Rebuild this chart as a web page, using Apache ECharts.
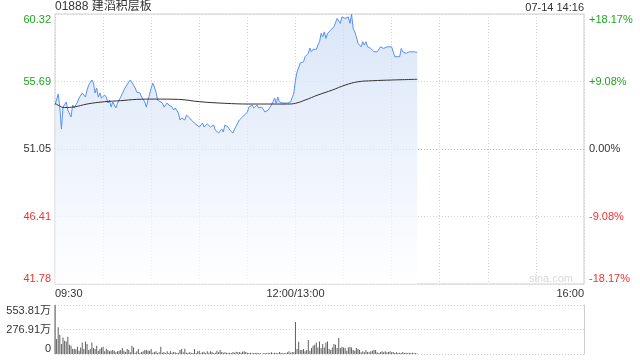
<!DOCTYPE html>
<html><head><meta charset="utf-8">
<script src="https://cdn.jsdelivr.net/npm/echarts@6/dist/echarts.min.js"></script>
<style>html,body{margin:0;padding:0;background:#fff}#c{width:640px;height:360px}</style>
</head><body><div id="c"></div>
<script>
// ---- data ----
const stockTitle = '01888 建滔积层板';
const stampText = '07-14 14:16';
const prevClose = 51.05;
const priceTickLabels = ['41.78', '46.41', '51.05', '55.69', '60.32'];
const pctTickLabels = ['-18.17%', '-9.08%', '0.00%', '+9.08%', '+18.17%'];
const volTickLabels = ['0', '276.91万', '553.81万'];
const volMax = 553.81;
const timeLabels = {0: '09:30', 150: '12:00/13:00', 330: '16:00'};

const priceTimes = ['09:30','09:32','09:33','09:34','09:35','09:37','09:38','09:40','09:41','09:42','09:44','09:45','09:47','09:49','09:50','09:51','09:53','09:54','09:55','09:56','09:57','09:58','09:59','10:01','10:02','10:03','10:04','10:05','10:06','10:08','10:09','10:11','10:13','10:14','10:16','10:17','10:18','10:19','10:20','10:21','10:23','10:24','10:26','10:27','10:28','10:30','10:31','10:32','10:33','10:34','10:35','10:37','10:38','10:40','10:41','10:43','10:44','10:45','10:47','10:48','10:49','10:51','10:52','10:54','10:55','10:57','10:58','11:00','11:02','11:03','11:05','11:06','11:07','11:09','11:10','11:12','11:14','11:15','11:16','11:18','11:19','11:21','11:22','11:24','11:25','11:27','11:28','11:30','11:31','11:32','11:33','11:34','11:36','11:37','11:39','11:41','11:42','11:43','11:45','11:46','11:47','11:48','11:49','11:50','11:52','11:53','11:55','11:57','11:58','11:59','12:00','13:01','13:02','13:03','13:05','13:06','13:08','13:09','13:10','13:11','13:13','13:14','13:15','13:16','13:17','13:18','13:19','13:20','13:22','13:23','13:24','13:26','13:27','13:28','13:29','13:30','13:31','13:32','13:33','13:34','13:35','13:36','13:37','13:38','13:39','13:40','13:41','13:42','13:43','13:44','13:45','13:47','13:49','13:50','13:51','13:53','13:54','13:55','13:57','13:58','14:00','14:01','14:02','14:03','14:05','14:06','14:07','14:08','14:09','14:11','14:12','14:14','14:16'];
const prices = [54.07,54.83,53.93,52.42,53.93,54.28,53.73,53.25,54.07,53.87,54.28,54.55,54.90,54.62,55.10,55.44,55.79,55.58,54.90,55.24,54.62,54.90,54.55,54.76,54.62,54.21,54.41,53.93,54.28,53.87,54.21,54.62,55.10,55.31,55.65,55.79,55.86,55.44,55.24,54.96,54.90,54.62,54.28,53.93,54.41,55.24,55.58,55.31,54.96,54.41,54.28,54.21,53.93,54.21,54.07,53.93,53.73,53.87,53.52,53.04,53.18,53.04,53.38,53.18,53.04,52.83,52.77,52.56,52.83,52.56,52.77,52.83,52.56,52.70,52.35,52.15,52.42,52.22,52.70,52.56,52.35,52.15,52.42,52.83,53.04,53.25,53.38,53.59,53.93,53.87,54.07,53.87,54.07,53.87,53.93,53.59,53.52,53.73,54.07,54.28,54.55,54.21,54.62,54.28,54.21,54.28,54.21,54.28,54.41,54.90,55.79,56.34,56.47,56.96,57.04,57.39,57.62,57.99,57.73,57.90,57.90,58.19,58.42,58.99,58.76,59.10,58.65,58.99,59.22,59.10,59.45,60.02,59.91,59.68,60.13,60.25,60.02,59.91,60.13,59.68,60.32,59.34,59.10,58.76,58.31,58.42,58.07,58.42,58.19,58.42,58.07,57.96,57.73,57.85,57.73,58.07,58.19,57.96,58.07,58.12,58.07,57.96,57.39,57.28,57.39,57.96,57.73,57.62,57.62,57.73,57.80,57.73,57.69];

const avgTimes = ['09:30','09:34','09:36','09:42','09:50','10:01','10:11','10:21','10:32','10:47','11:00','11:16','11:31','11:55','12:00','13:06','13:14','13:23','13:31','13:39','13:48','14:00','14:16'];
const avgPrices = [54.19,53.94,53.90,53.94,54.14,54.30,54.37,54.46,54.48,54.46,54.30,54.19,54.14,54.14,54.19,54.41,54.76,55.10,55.44,55.67,55.74,55.79,55.84];

// volume per minute (万股), 09:30 .. 14:16
const volumes = [
553.81,168.4,303.1,217.0,112.3,187.1,149.7,142.2,194.6,104.8,
93.6,56.1,59.9,52.4,82.3,37.4,74.8,131.0,56.1,142.2,
112.3,44.9,56.1,131.0,67.4,56.1,93.6,37.4,56.1,74.8,
82.3,29.9,59.9,44.9,29.9,37.4,44.9,37.4,18.7,29.9,
37.4,44.9,67.4,37.4,22.5,56.1,44.9,18.7,93.6,74.8,
15.0,29.9,56.1,11.2,22.5,29.9,44.9,44.9,37.4,37.4,
56.1,15.0,22.5,29.9,11.2,18.7,82.3,15.0,22.5,11.2,
29.9,11.2,29.9,15.0,22.5,
18.7,11.2,15.0,44.9,56.1,18.7,59.9,15.0,11.2,18.7,
15.0,11.2,56.1,11.2,29.9,37.4,11.2,18.7,26.2,11.2,
29.9,15.0,29.9,22.5,11.2,15.0,37.4,18.7,44.9,22.5,
15.0,18.7,15.0,11.2,15.0,11.2,22.5,15.0,26.2,18.7,
22.5,15.0,26.2,29.9,22.5,15.0,11.2,15.0,7.5,11.2,
11.2,15.0,7.5,11.2,3.7,7.5,11.2,7.5,15.0,11.2,
18.7,7.5,15.0,11.2,7.5,22.5,11.2,7.5,11.2,7.5,
18.7,29.9,15.0,22.5,18.7,
363.0,
56.1,138.5,44.9,44.9,56.1,29.9,44.9,157.2,37.4,67.4,
93.6,104.8,131.0,74.8,142.2,67.4,112.3,74.8,131.0,142.2,
56.1,44.9,74.8,112.3,104.8,67.4,179.6,67.4,82.3,74.8,
67.4,37.4,74.8,82.3,74.8,44.9,37.4,67.4,56.1,44.9,
18.7,29.9,18.7,44.9,22.5,18.7,29.9,37.4,44.9,44.9,
18.7,11.2,22.5,29.9,18.7,29.9,18.7,22.5,29.9,18.7,
22.5,11.2,18.7,11.2,15.0,11.2,22.5,11.2,15.0,11.2,
15.0,11.2,15.0,7.5,11.2,3.7];

// ---- helpers ----
function toIdx(t) {
  const [h, m] = t.split(':').map(Number);
  const mins = h * 60 + m;
  return mins <= 720 ? mins - 570 : mins - 780 + 150;
}
const toPct = p => (p / prevClose - 1) * 100;
const priceData = priceTimes.map((t, i) => [toIdx(t), toPct(prices[i])]);
const avgData = avgTimes.map((t, i) => [toIdx(t), toPct(avgPrices[i])]);
const volData = volumes.map((v, i) => [i, v]);

const FONT = 'Arial, "Liberation Sans", "Noto Sans CJK SC", sans-serif';
const GREEN = '#20a520', RED = '#ee3434', DARK = '#333';
const pctColor = (v) => { v = Number(v); return v > 0.001 ? GREEN : (v < -0.001 ? RED : DARK); };

const chart = echarts.init(document.getElementById('c'), null, {renderer: 'canvas'});
chart.setOption({
  animation: false,
  backgroundColor: '#fff',
  textStyle: {fontFamily: FONT},
  title: [
    {text: stockTitle, left: 55, top: 1, padding: 0, textStyle: {fontSize: 12, fontWeight: 'normal', color: DARK, fontFamily: FONT}},
    {text: stampText, right: 56, top: 2, padding: 0, textStyle: {fontSize: 11, fontWeight: 'normal', color: DARK, fontFamily: FONT}}
  ],
  graphic: [{type: 'text', right: 67, top: 273, style: {text: 'sina.com', fill: '#d8d8d8', font: '11px ' + FONT}}],
  grid: [
    {left: 55, top: 14, width: 529, height: 270, show: true, borderColor: '#cfcfcf', borderWidth: 1, backgroundColor: 'transparent'},
    {left: 55, top: 305, width: 529, height: 49}
  ],
  xAxis: [
    {type: 'value', gridIndex: 0, min: 0, max: 330, interval: 30,
     axisLine: {show: false}, axisTick: {show: false},
     splitLine: {show: true, lineStyle: {color: '#d4d4d4', type: [1, 2], width: 1}},
     axisLabel: {margin: 4, fontSize: 11, color: DARK, fontFamily: FONT, showMinLabel: true, showMaxLabel: true,
       alignMinLabel: 'left', alignMaxLabel: 'right',
       formatter: v => timeLabels[Math.round(v)] || ''}},
    {type: 'value', gridIndex: 1, min: 0, max: 330, interval: 30,
     axisLine: {show: false}, axisTick: {show: false}, splitLine: {show: false}, axisLabel: {show: false}}
  ],
  yAxis: [
    {type: 'value', gridIndex: 0, position: 'left', min: -18.17, max: 18.17, interval: 9.085,
     axisLine: {show: false}, axisTick: {show: false},
     splitLine: {show: true, lineStyle: {color: ['#d4d4d4', '#d4d4d4', '#b8b8b8', '#d4d4d4', '#d4d4d4'], type: [1, 2]}},
     axisLabel: {margin: 4, fontSize: 11, fontFamily: FONT, color: pctColor,
       verticalAlignMinLabel: 'bottom', verticalAlignMaxLabel: 'top',
       formatter: (v, i) => priceTickLabels[i]}},
    {type: 'value', gridIndex: 0, position: 'right', min: -18.17, max: 18.17, interval: 9.085,
     axisLine: {show: false}, axisTick: {show: false}, splitLine: {show: false},
     axisLabel: {margin: 5, fontSize: 11, fontFamily: FONT, color: pctColor,
       verticalAlignMinLabel: 'bottom', verticalAlignMaxLabel: 'top',
       formatter: (v, i) => pctTickLabels[i]}},
    {type: 'value', gridIndex: 1, position: 'left', min: 0, max: volMax, interval: volMax / 2,
     axisLine: {show: true, lineStyle: {color: '#cfcfcf'}}, axisTick: {show: false},
     splitLine: {show: true, lineStyle: {color: '#cfcfcf', type: [1, 2]}},
     axisLabel: {margin: 4, fontSize: 11, fontFamily: FONT, color: DARK,
       verticalAlignMinLabel: 'bottom', verticalAlignMaxLabel: 'top',
       formatter: (v, i) => volTickLabels[i]}},
    {type: 'value', gridIndex: 1, position: 'right', min: 0, max: volMax, interval: volMax / 2,
     axisLine: {show: true, lineStyle: {color: '#cfcfcf'}}, axisTick: {show: false},
     splitLine: {show: false}, axisLabel: {show: false}}
  ],
  series: [
    {type: 'line', xAxisIndex: 0, yAxisIndex: 0, data: priceData, symbol: 'none',
     lineStyle: {color: '#5a8ff0', width: 1},
     areaStyle: {origin: 'start', color: new echarts.graphic.LinearGradient(0, 0, 0, 1, [
       {offset: 0, color: '#cadbf6'}, {offset: 1, color: '#ffffff'}])}},
    {type: 'line', xAxisIndex: 0, yAxisIndex: 0, data: avgData, symbol: 'none', smooth: 0.4,
     lineStyle: {color: '#333', width: 1}},
    {type: 'bar', xAxisIndex: 1, yAxisIndex: 2, data: volData, barWidth: 1, itemStyle: {color: '#5f5f5f'}}
  ]
});
</script></body></html>
